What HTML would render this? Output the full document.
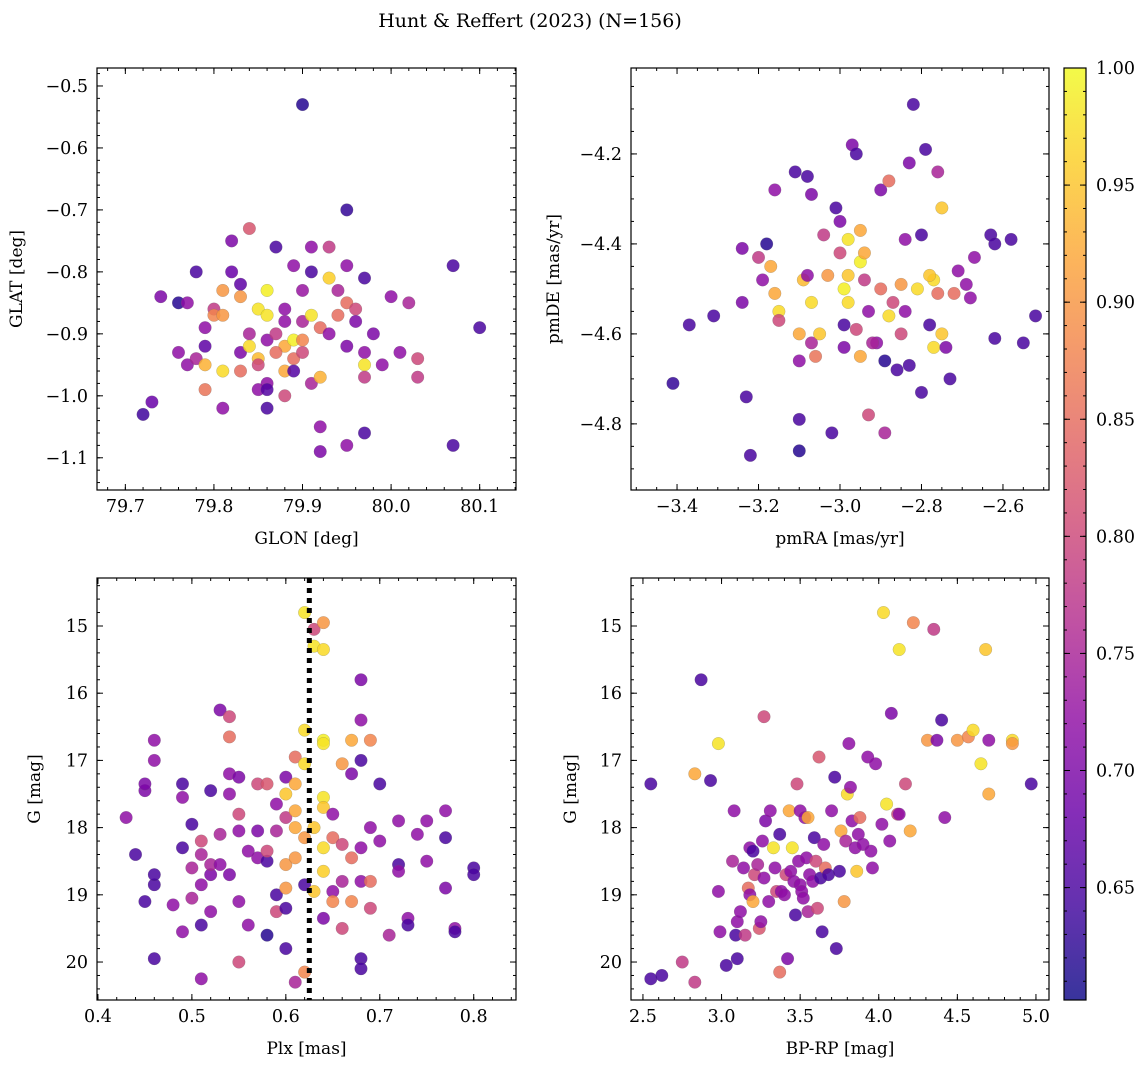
<!DOCTYPE html>
<html><head><meta charset="utf-8">
<style>
body{margin:0;background:#fff;}
svg{display:block;font-family:"DejaVu Serif","Liberation Serif",serif;}
</style></head>
<body>
<svg id="fig" width="1148" height="1067" viewBox="0 0 1148 1067" xmlns="http://www.w3.org/2000/svg">
<defs>
<linearGradient id="cbgrad" x1="0" y1="1" x2="0" y2="0">
<stop offset="0" stop-color="#0d0887"/><stop offset="0.1" stop-color="#41049d"/><stop offset="0.2" stop-color="#6a00a8"/><stop offset="0.3" stop-color="#8f0da4"/><stop offset="0.4" stop-color="#b12a90"/><stop offset="0.5" stop-color="#cc4778"/><stop offset="0.6" stop-color="#e16462"/><stop offset="0.7" stop-color="#f2844b"/><stop offset="0.8" stop-color="#fca636"/><stop offset="0.9" stop-color="#fcce25"/><stop offset="1" stop-color="#f0f921"/>
</linearGradient>
</defs>
<text x="530" y="27" font-size="19" text-anchor="middle">Hunt &amp; Reffert (2023) (N=156)</text>
</svg>
<script>
// Panel 1: GLON vs GLAT
const p1X=[79.90,79.95,79.74,79.78,79.76,79.77,79.72,79.73,79.76,79.77,79.78,79.79,79.80,79.79,79.79,79.79,79.80,79.81,79.81,79.81,79.81,79.82,79.82,79.83,79.83,79.83,79.83,79.84,79.84,79.84,79.85,79.85,79.85,79.86,79.86,79.86,79.86,79.86,79.87,79.87,79.88,79.88,79.88,79.88,79.88,79.89,79.89,79.89,79.90,79.90,79.90,79.91,79.91,79.91,79.91,79.92,79.92,79.92,79.92,79.93,79.93,79.93,79.94,79.94,79.95,79.95,79.95,79.96,79.96,79.97,79.97,79.97,79.97,79.97,79.98,79.99,80.00,80.01,80.02,80.03,80.03,80.07,80.07,80.10,79.95,79.85,79.86,79.89,79.87,79.90];
const p1Y=[-0.53,-0.70,-0.84,-0.80,-0.85,-0.85,-1.03,-1.01,-0.93,-0.95,-0.94,-0.89,-0.86,-0.92,-0.99,-0.95,-0.87,-0.83,-0.87,-0.96,-1.02,-0.80,-0.75,-0.82,-0.84,-0.93,-0.96,-0.73,-0.90,-0.92,-0.94,-0.86,-0.95,-0.83,-0.87,-0.91,-0.98,-1.02,-0.76,-0.90,-0.88,-0.92,-0.96,-1.00,-0.86,-0.79,-0.94,-0.91,-0.83,-0.88,-0.93,-0.76,-0.87,-0.98,-0.80,-0.89,-0.97,-1.05,-1.09,-0.81,-0.76,-0.90,-0.87,-0.83,-0.79,-0.85,-0.92,-0.86,-0.88,-0.81,-0.93,-0.95,-0.97,-1.06,-0.90,-0.95,-0.84,-0.93,-0.85,-0.97,-0.94,-0.79,-1.08,-0.89,-1.08,-0.99,-0.99,-0.96,-0.93,-0.91];
const p1P=[0.62,0.63,0.70,0.65,0.62,0.72,0.64,0.68,0.72,0.72,0.75,0.72,0.78,0.67,0.86,0.93,0.88,0.90,0.90,0.97,0.72,0.68,0.70,0.67,0.90,0.70,0.85,0.82,0.75,0.97,0.94,0.98,0.80,0.99,0.98,0.72,0.72,0.65,0.65,0.78,0.72,0.92,0.92,0.80,0.72,0.72,0.85,0.99,0.73,0.75,0.80,0.72,0.98,0.75,0.65,0.85,0.93,0.72,0.70,0.96,0.78,0.72,0.85,0.75,0.72,0.85,0.70,0.80,0.70,0.65,0.72,0.98,0.78,0.65,0.70,0.72,0.72,0.72,0.75,0.78,0.80,0.65,0.65,0.65,0.72,0.72,0.66,0.66,0.85,0.88];
// Panel 2: pmRA vs pmDE
const p2X=[-3.41,-3.37,-3.31,-3.24,-3.24,-3.23,-3.22,-3.20,-3.19,-3.18,-3.17,-3.16,-3.16,-3.15,-3.15,-3.11,-3.10,-3.10,-3.10,-3.10,-3.09,-3.08,-3.08,-3.07,-3.07,-3.07,-3.06,-3.05,-3.04,-3.03,-3.02,-3.01,-3.00,-3.00,-2.99,-2.99,-2.99,-2.98,-2.98,-2.98,-2.97,-2.96,-2.96,-2.95,-2.95,-2.95,-2.94,-2.94,-2.93,-2.93,-2.91,-2.90,-2.90,-2.89,-2.89,-2.88,-2.88,-2.87,-2.86,-2.85,-2.85,-2.84,-2.83,-2.83,-2.82,-2.81,-2.80,-2.79,-2.78,-2.77,-2.77,-2.76,-2.75,-2.74,-2.73,-2.72,-2.71,-2.69,-2.68,-2.67,-2.63,-2.62,-2.62,-2.58,-2.55,-2.52,-2.80,-2.76,-2.84,-2.92,-2.78,-2.75];
const p2Y=[-4.71,-4.58,-4.56,-4.53,-4.41,-4.74,-4.87,-4.43,-4.48,-4.40,-4.45,-4.51,-4.28,-4.55,-4.57,-4.24,-4.60,-4.66,-4.79,-4.86,-4.48,-4.47,-4.25,-4.29,-4.53,-4.62,-4.65,-4.60,-4.38,-4.47,-4.82,-4.32,-4.35,-4.42,-4.50,-4.58,-4.63,-4.39,-4.47,-4.53,-4.18,-4.20,-4.59,-4.44,-4.37,-4.65,-4.42,-4.48,-4.78,-4.55,-4.62,-4.28,-4.50,-4.66,-4.82,-4.26,-4.56,-4.53,-4.68,-4.60,-4.49,-4.39,-4.67,-4.22,-4.09,-4.50,-4.38,-4.19,-4.58,-4.48,-4.63,-4.51,-4.32,-4.63,-4.70,-4.51,-4.46,-4.49,-4.52,-4.43,-4.38,-4.40,-4.61,-4.39,-4.62,-4.56,-4.73,-4.24,-4.55,-4.62,-4.47,-4.60];
const p2P=[0.63,0.65,0.65,0.70,0.70,0.65,0.65,0.78,0.72,0.62,0.92,0.92,0.72,0.97,0.80,0.65,0.92,0.72,0.65,0.62,0.94,0.72,0.65,0.70,0.97,0.75,0.86,0.95,0.78,0.90,0.65,0.65,0.70,0.80,0.99,0.65,0.70,0.98,0.95,0.97,0.70,0.65,0.80,0.99,0.92,0.92,0.92,0.78,0.80,0.72,0.72,0.70,0.85,0.62,0.75,0.85,0.97,0.80,0.65,0.80,0.90,0.72,0.65,0.70,0.65,0.97,0.65,0.65,0.65,0.97,0.97,0.85,0.95,0.70,0.65,0.85,0.72,0.72,0.72,0.72,0.65,0.65,0.65,0.65,0.65,0.65,0.65,0.75,0.72,0.75,0.95,0.95];
// Panel 3: Plx vs G
const p3X=[0.43,0.44,0.45,0.45,0.45,0.46,0.46,0.46,0.46,0.46,0.48,0.49,0.49,0.49,0.49,0.50,0.50,0.50,0.51,0.51,0.51,0.51,0.51,0.52,0.52,0.52,0.52,0.53,0.53,0.54,0.54,0.54,0.54,0.54,0.55,0.55,0.55,0.55,0.55,0.56,0.57,0.57,0.58,0.58,0.58,0.58,0.59,0.59,0.59,0.59,0.60,0.60,0.60,0.60,0.60,0.60,0.60,0.61,0.61,0.61,0.61,0.61,0.61,0.62,0.62,0.62,0.62,0.62,0.62,0.63,0.63,0.63,0.63,0.64,0.64,0.64,0.64,0.64,0.64,0.64,0.64,0.64,0.65,0.65,0.65,0.65,0.66,0.66,0.66,0.66,0.67,0.67,0.67,0.67,0.68,0.68,0.68,0.68,0.68,0.68,0.68,0.69,0.69,0.69,0.69,0.70,0.70,0.71,0.72,0.72,0.72,0.73,0.73,0.74,0.75,0.75,0.77,0.77,0.77,0.78,0.78,0.80,0.80,0.56,0.57,0.53];
const p3Y=[17.85,18.40,19.10,17.45,17.35,16.70,17.00,18.85,18.70,19.95,19.15,17.55,17.35,18.30,19.55,17.95,18.60,19.05,18.20,18.40,18.85,19.45,20.25,19.25,17.45,18.70,18.55,16.25,18.10,16.65,16.35,17.20,17.50,18.70,17.25,17.80,18.05,19.10,20.00,19.45,18.45,17.35,17.35,18.50,19.60,18.35,17.65,19.00,18.05,19.25,17.85,18.55,18.90,17.25,19.80,19.20,17.50,17.75,18.00,16.95,17.35,18.45,20.30,16.55,17.05,18.15,18.85,20.15,14.80,15.05,15.30,18.00,18.95,15.35,16.70,16.75,17.55,17.70,18.30,18.65,19.35,14.95,18.15,18.95,19.10,17.80,17.05,18.25,18.80,19.50,16.70,17.20,18.45,19.10,15.80,16.40,17.00,18.30,18.80,19.95,20.10,16.70,18.00,19.20,18.80,17.35,18.20,19.60,17.90,18.55,18.65,19.35,19.45,18.10,17.90,18.50,17.75,18.15,18.90,19.50,19.55,18.60,18.70,18.35,18.05,18.55];
const p3P=[0.72,0.65,0.65,0.70,0.70,0.72,0.72,0.65,0.65,0.65,0.72,0.72,0.65,0.65,0.72,0.65,0.75,0.75,0.80,0.75,0.72,0.65,0.72,0.72,0.65,0.70,0.75,0.70,0.75,0.85,0.80,0.72,0.72,0.70,0.70,0.80,0.72,0.72,0.80,0.72,0.72,0.80,0.82,0.65,0.62,0.80,0.72,0.65,0.75,0.80,0.78,0.90,0.90,0.70,0.65,0.65,0.95,0.92,0.92,0.85,0.92,0.90,0.75,0.97,0.97,0.90,0.65,0.88,0.98,0.80,0.98,0.95,0.95,0.97,0.99,0.98,0.98,0.95,0.97,0.96,0.70,0.90,0.85,0.72,0.88,0.72,0.90,0.80,0.75,0.80,0.92,0.70,0.85,0.88,0.70,0.72,0.65,0.72,0.72,0.65,0.65,0.88,0.72,0.80,0.85,0.65,0.72,0.75,0.72,0.65,0.72,0.72,0.65,0.72,0.72,0.72,0.72,0.65,0.70,0.72,0.65,0.65,0.65,0.72,0.70,0.72];
// Panel 4: BP-RP vs G
const p4X=[2.55,2.55,2.62,2.75,2.83,2.83,2.87,2.93,2.98,2.98,2.99,3.03,3.07,3.08,3.09,3.10,3.10,3.12,3.14,3.15,3.17,3.18,3.18,3.20,3.20,3.21,3.23,3.24,3.25,3.26,3.27,3.27,3.28,3.30,3.31,3.33,3.34,3.35,3.37,3.37,3.38,3.40,3.41,3.42,3.43,3.44,3.45,3.46,3.47,3.48,3.49,3.50,3.50,3.51,3.52,3.53,3.54,3.55,3.55,3.56,3.58,3.59,3.60,3.61,3.62,3.63,3.64,3.65,3.66,3.68,3.70,3.72,3.73,3.75,3.76,3.78,3.79,3.80,3.81,3.82,3.83,3.85,3.86,3.87,3.88,3.90,3.93,3.95,3.96,3.98,4.02,4.03,4.05,4.07,4.08,4.12,4.13,4.13,4.17,4.20,4.22,4.31,4.35,4.37,4.40,4.42,4.50,4.57,4.60,4.65,4.68,4.70,4.70,4.85,4.85,4.97];
const p4Y=[17.35,20.25,20.20,20.00,20.30,17.20,15.80,17.30,16.75,18.95,19.55,20.05,18.50,17.75,19.60,19.95,19.40,19.25,18.60,19.60,18.90,18.30,19.00,18.35,19.10,18.70,18.55,19.50,19.40,18.20,16.35,18.75,17.90,19.10,17.75,18.30,18.60,18.95,20.15,18.10,18.95,19.00,18.70,19.95,17.75,18.65,18.30,18.80,19.30,17.35,18.50,18.85,17.75,18.95,19.05,17.85,18.45,17.85,19.25,18.70,18.80,18.15,18.50,19.20,16.95,18.75,19.55,18.25,18.60,18.70,17.75,17.25,19.80,18.65,18.05,19.10,18.20,17.50,16.75,17.40,17.90,18.30,18.65,18.10,17.85,18.25,16.95,18.35,18.60,17.05,17.95,14.80,17.65,18.20,16.30,17.80,15.35,17.80,17.35,18.05,14.95,16.70,15.05,16.70,16.40,17.85,16.70,16.65,16.55,17.05,15.35,16.70,17.50,16.70,16.75,17.35];
const p4P=[0.65,0.65,0.65,0.78,0.78,0.92,0.65,0.65,0.98,0.72,0.72,0.65,0.75,0.72,0.65,0.65,0.72,0.72,0.72,0.78,0.85,0.72,0.72,0.65,0.92,0.80,0.75,0.82,0.72,0.72,0.80,0.72,0.70,0.72,0.72,0.98,0.72,0.80,0.85,0.65,0.72,0.72,0.80,0.70,0.92,0.72,0.98,0.72,0.65,0.80,0.72,0.72,0.72,0.72,0.72,0.72,0.72,0.92,0.75,0.72,0.72,0.65,0.80,0.80,0.82,0.65,0.65,0.72,0.85,0.65,0.72,0.65,0.65,0.65,0.92,0.90,0.75,0.97,0.72,0.72,0.72,0.72,0.95,0.72,0.85,0.72,0.72,0.72,0.72,0.72,0.72,0.97,0.98,0.72,0.70,0.80,0.98,0.72,0.80,0.92,0.88,0.90,0.78,0.70,0.65,0.72,0.90,0.88,0.97,0.98,0.95,0.72,0.92,0.97,0.90,0.65];
// Colorbar ticks
const cbTicks=[0.65,0.70,0.75,0.80,0.85,0.90,0.95,1.00];
const cbMin=0.602, cbMax=1.0;

const NS="http://www.w3.org/2000/svg";
const svg=document.getElementById('fig');
function mk(tag,attrs,parent){const e=document.createElementNS(NS,tag);for(const k in attrs)e.setAttribute(k,attrs[k]);(parent||svg).appendChild(e);return e;}
const stops=[[13,8,135],[65,4,157],[106,0,168],[143,13,164],[177,42,144],[204,71,120],[225,100,98],[242,132,75],[252,166,54],[252,206,37],[240,249,33]];
function plasma(v){let t=(v-cbMin)/(cbMax-cbMin);t=Math.max(0,Math.min(1,t))*10;const i=Math.min(9,Math.floor(t)),f=t-i;const a=stops[i],b=stops[i+1];return 'rgb('+a.map((c,k)=>Math.round(c+(b[k]-c)*f)).join(',')+')';}
const TFS=17.5, LFS=17;
function panel(cfg){
  const {L,T,R,B,x0,x1,y0,y1,xticks,yticks,xminor,yminor,xfmt,yfmt,xlabel,ylabel,X,Y,P,name}=cfg;
  const sx=v=>L+(v-x0)/(x1-x0)*(R-L);
  const sy=v=>T+(v-y0)/(y1-y0)*(B-T);
  const g=mk('g',{});
  
  
  const clipId=name+'-clip';
  const cp=mk('clipPath',{id:clipId},g);mk('rect',{x:L,y:T,width:R-L,height:B-T},cp);
  const pts=mk('g',{'clip-path':'url(#'+clipId+')'},g);
  for(let i=0;i<X.length;i++){
    const c=mk('circle',{cx:sx(X[i]),cy:sy(Y[i]),r:6.3,fill:plasma(P[i]),'fill-opacity':0.85,stroke:'#666','stroke-width':0.4,'stroke-opacity':0.5},pts);
    
    
  }
  if(cfg.vline!==undefined){
    const l=mk('line',{x1:sx(cfg.vline),x2:sx(cfg.vline),y1:T,y2:B,stroke:'#000','stroke-width':5,'stroke-dasharray':'5,5'},g);
    
    
  }
  mk('rect',{x:L,y:T,width:R-L,height:B-T,fill:'none',stroke:'#000','stroke-width':1.2},g);
  const lo=Math.min(x0,x1),hi=Math.max(x0,x1);
  for(let v=Math.ceil(lo/xminor)*xminor;v<=hi;v+=xminor){const px=sx(v);mk('line',{x1:px,x2:px,y1:B,y2:B-3,stroke:'#000'},g);mk('line',{x1:px,x2:px,y1:T,y2:T+3,stroke:'#000'},g);}
  const ylo=Math.min(y0,y1),yhi=Math.max(y0,y1);
  for(let v=Math.ceil(ylo/yminor)*yminor;v<=yhi;v+=yminor){const py=sy(v);mk('line',{x1:L,x2:L+3,y1:py,y2:py,stroke:'#000'},g);mk('line',{x1:R,x2:R-3,y1:py,y2:py,stroke:'#000'},g);}
  xticks.forEach(v=>{const px=sx(v);mk('line',{x1:px,x2:px,y1:B,y2:B-6,stroke:'#000'},g);mk('line',{x1:px,x2:px,y1:T,y2:T+6,stroke:'#000'},g);
    const t=mk('text',{x:px,y:B+22,'font-size':TFS,'text-anchor':'middle'},g);t.textContent=xfmt(v);
    
    });
  yticks.forEach(v=>{const py=sy(v);mk('line',{x1:L,x2:L+6,y1:py,y2:py,stroke:'#000'},g);mk('line',{x1:R,x2:R-6,y1:py,y2:py,stroke:'#000'},g);
    const t=mk('text',{x:L-9,y:py+6,'font-size':TFS,'text-anchor':'end'},g);t.textContent=yfmt(v);
    
    });
  const xl=mk('text',{x:(L+R)/2,y:B+54,'font-size':LFS,'text-anchor':'middle'},g);xl.textContent=xlabel;
  
  
  const yl=mk('text',{x:0,y:0,'font-size':LFS,'text-anchor':'middle',transform:'translate('+cfg.ylx+','+(T+B)/2+') rotate(-90)'},g);yl.textContent=ylabel;
  
  
}
const m=s=>s.replace('-','\u2212');
panel({name:'panel-glon-glat',L:97,T:68,R:516,B:490,x0:79.668,x1:80.141,y0:-0.471,y1:-1.152,xticks:[79.7,79.8,79.9,80.0,80.1],yticks:[-0.5,-0.6,-0.7,-0.8,-0.9,-1.0,-1.1],xminor:0.02,yminor:0.02,xfmt:v=>v.toFixed(1),yfmt:v=>m(v.toFixed(1)),xlabel:'GLON [deg]',ylabel:'GLAT [deg]',ylx:22,X:p1X,Y:p1Y,P:p1P});
panel({name:'panel-pm',L:631,T:68,R:1049,B:490,x0:-3.513,x1:-2.487,y0:-4.009,y1:-4.947,xticks:[-3.4,-3.2,-3.0,-2.8,-2.6],yticks:[-4.2,-4.4,-4.6,-4.8],xminor:0.05,yminor:0.05,xfmt:v=>m(v.toFixed(1)),yfmt:v=>m(v.toFixed(1)),xlabel:'pmRA [mas/yr]',ylabel:'pmDE [mas/yr]',ylx:559,X:p2X,Y:p2Y,P:p2P});
panel({name:'panel-plx-g',L:97,T:578,R:516,B:1000,x0:0.399,x1:0.845,y0:14.286,y1:20.565,xticks:[0.4,0.5,0.6,0.7,0.8],yticks:[15,16,17,18,19,20],xminor:0.02,yminor:0.2,xfmt:v=>v.toFixed(1),yfmt:v=>String(v),xlabel:'Plx [mas]',ylabel:'G [mag]',ylx:40,X:p3X,Y:p3Y,P:p3P,vline:0.625});
panel({name:'panel-color-g',L:631,T:578,R:1049,B:1000,x0:2.424,x1:5.083,y0:14.286,y1:20.565,xticks:[2.5,3.0,3.5,4.0,4.5,5.0],yticks:[15,16,17,18,19,20],xminor:0.1,yminor:0.2,xfmt:v=>v.toFixed(1),yfmt:v=>String(v),xlabel:'BP-RP [mag]',ylabel:'G [mag]',ylx:576,X:p4X,Y:p4Y,P:p4P});

const cb=mk('g',{});


const cbT=68,cbB=1000,cbL=1064,cbR=1086;
mk('rect',{x:cbL,y:cbT,width:cbR-cbL,height:cbB-cbT,fill:'url(#cbgrad)','fill-opacity':0.82},cb);
mk('rect',{x:cbL,y:cbT,width:cbR-cbL,height:cbB-cbT,fill:'none',stroke:'#000','stroke-width':1.2},cb);
const cy=v=>cbB-(v-cbMin)/(cbMax-cbMin)*(cbB-cbT);
for(let v=0.61;v<=1.0001;v+=0.01){mk('line',{x1:cbR,x2:cbR-3,y1:cy(v),y2:cy(v),stroke:'#000'},cb);mk('line',{x1:cbL,x2:cbL+3,y1:cy(v),y2:cy(v),stroke:'#000'},cb);}
cbTicks.forEach(v=>{mk('line',{x1:cbR,x2:cbR-6,y1:cy(v),y2:cy(v),stroke:'#000'},cb);mk('line',{x1:cbL,x2:cbL+6,y1:cy(v),y2:cy(v),stroke:'#000'},cb);
  const t=mk('text',{x:cbR+10,y:cy(v)+6,'font-size':TFS},cb);t.textContent=v.toFixed(2);
  
  });
</script>
</body></html>
